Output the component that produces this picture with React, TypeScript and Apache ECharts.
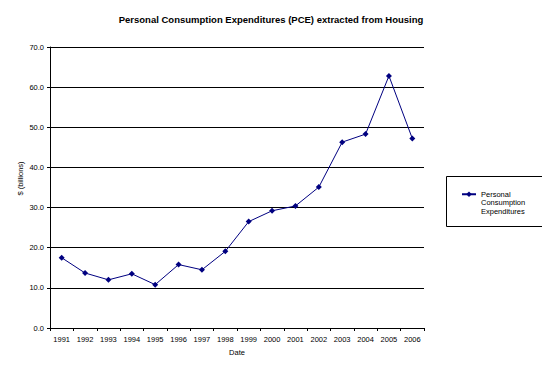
import React, { useEffect, useRef } from "react";
import * as echarts from "echarts";

const years = ["1991","1992","1993","1994","1995","1996","1997","1998","1999","2000","2001","2002","2003","2004","2005","2006"];
const pce = [17.5, 13.7, 12.0, 13.5, 10.8, 15.8, 14.5, 19.1, 26.5, 29.2, 30.4, 35.1, 46.3, 48.3, 62.8, 47.2];
const seriesName = "Personal Consumption Expenditures";
const legendLines = ["Personal", "Consumption", "Expenditures"];
const titleText = "Personal Consumption Expenditures (PCE) extracted from Housing";
const yName = "$ (billions)";
const xName = "Date";

const FONT = "Arial, 'Liberation Sans', sans-serif";

export default function App() {
  const ref = useRef<HTMLDivElement>(null);
  useEffect(() => {
    document.body.style.margin = "0";
    if (!ref.current) return;
    const chart = echarts.init(ref.current, null, { renderer: "svg" });
    chart.setOption({
      animation: false,
      backgroundColor: "#ffffff",
      title: {
        text: titleText,
        left: "center",
        top: 9,
        textStyle: { fontFamily: FONT, fontSize: 9.5, fontWeight: "bold", color: "#000" },
      },
      grid: { left: 50, right: 118, top: 47, bottom: 42, containLabel: false },
      xAxis: {
        type: "category",
        data: years,
        boundaryGap: true,
        name: xName,
        nameLocation: "middle",
        nameGap: 20,
        nameTextStyle: { fontFamily: FONT, fontSize: 7.5, color: "#000" },
        axisLine: { lineStyle: { color: "#000", width: 1 } },
        axisTick: { show: true, interval: 0, length: 3, lineStyle: { color: "#000" } },
        axisLabel: { fontFamily: FONT, fontSize: 7.5, color: "#000", interval: 0, margin: 7 },
        splitLine: { show: false },
      },
      yAxis: {
        type: "value",
        min: 0,
        max: 70,
        interval: 10,
        name: yName,
        nameLocation: "middle",
        nameGap: 26,
        nameMoveOverlap: false,
        nameRotate: 90,
        nameTextStyle: { fontFamily: FONT, fontSize: 7.5, color: "#000", padding: [0, 0, 0, 18] },
        axisLine: { show: true, lineStyle: { color: "#000", width: 1 } },
        axisTick: { show: true, length: 3, lineStyle: { color: "#000" } },
        axisLabel: {
          fontFamily: FONT,
          fontSize: 7.5,
          color: "#000",
          margin: 6,
          formatter: (v: number) => v.toFixed(1),
        },
        splitLine: { show: true, lineStyle: { color: "#000", width: 1 } },
      },
      legend: {
        show: true,
        left: 461,
        top: 173,
        padding: 0,
        itemWidth: 14,
        itemHeight: 7,
        itemGap: 0,
        orient: "vertical",
        formatter: () => "\n\n" + legendLines.join("\n"),
        textStyle: {
          fontFamily: FONT,
          fontSize: 7.5,
          lineHeight: 8.5,
          color: "#000",
        },
      },
      graphic: [
        {
          type: "rect",
          shape: { x: 446.5, y: 176.5, width: 96, height: 50 },
          style: { fill: "none", stroke: "#000", lineWidth: 1 },
          silent: true,
        },
      ],
      series: [
        {
          name: seriesName,
          type: "line",
          data: pce,
          symbol: "diamond",
          symbolSize: 6,
          lineStyle: { color: "#000080", width: 1 },
          itemStyle: { color: "#000080" },
        },
      ],
    });
    return () => chart.dispose();
  }, []);
  return <div ref={ref} style={{ width: 542, height: 370 }} />;
}
